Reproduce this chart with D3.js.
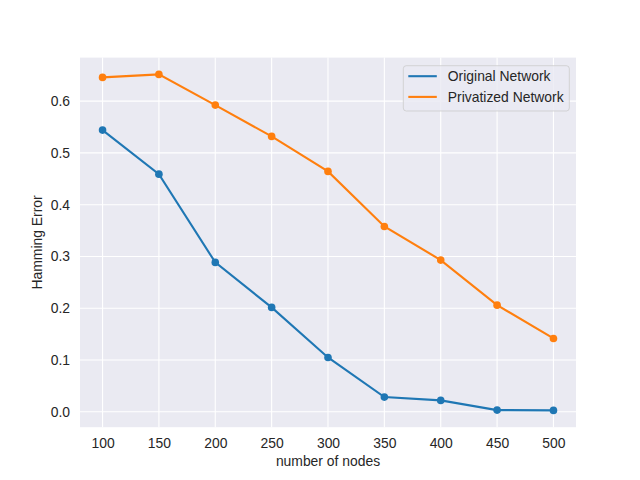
<!DOCTYPE html>
<html>
<head>
<meta charset="utf-8">
<script src="https://cdn.jsdelivr.net/npm/d3@7"></script>
<style>
  body { margin: 0; background: #fff; }
  text { font-family: "Liberation Sans", Arial, sans-serif; }
</style>
</head>
<body>
<div id="chart"></div>
<script>
// Data
var nodes = [100, 150, 200, 250, 300, 350, 400, 450, 500];
var originalError = [0.544, 0.459, 0.2885, 0.2016, 0.105, 0.0284, 0.022, 0.0033, 0.0027];
var privatizedError = [0.6458, 0.6516, 0.5923, 0.5319, 0.4643, 0.358, 0.293, 0.206, 0.1417];
var seriesNames = ["Original Network", "Privatized Network"];
var seriesColors = ["#1f77b4", "#ff7f0e"];
var xTicks = [100, 150, 200, 250, 300, 350, 400, 450, 500];
var yTicks = [0.0, 0.1, 0.2, 0.3, 0.4, 0.5, 0.6];

var W = 640, H = 480;
var margin = {top: 57.6, right: 64, bottom: 52.8, left: 80},
    width = W - margin.left - margin.right,
    height = H - margin.top - margin.bottom;
var fontSize = "13.9px";

var svg = d3.select("#chart")
  .append("svg")
    .attr("width", W)
    .attr("height", H)
  .append("g")
    .attr("transform", `translate(${margin.left},${margin.top})`);

// matplotlib-like 5% margins
var xPad = (d3.max(nodes) - d3.min(nodes)) * 0.05;
var allY = originalError.concat(privatizedError);
var yPad = (d3.max(allY) - d3.min(allY)) * 0.05;

var x = d3.scaleLinear()
  .domain([d3.min(nodes) - xPad, d3.max(nodes) + xPad])
  .range([0, width]);
var y = d3.scaleLinear()
  .domain([d3.min(allY) - yPad, d3.max(allY) + yPad])
  .range([height, 0]);

// background
svg.append("rect")
  .attr("width", width)
  .attr("height", height)
  .attr("fill", "#eaeaf2");

// grid
svg.append("g").selectAll("line")
  .data(xTicks).join("line")
    .attr("x1", d => x(d)).attr("x2", d => x(d))
    .attr("y1", 0).attr("y2", height)
    .attr("stroke", "#fff").attr("stroke-width", 1.1);
svg.append("g").selectAll("line")
  .data(yTicks).join("line")
    .attr("y1", d => y(d)).attr("y2", d => y(d))
    .attr("x1", 0).attr("x2", width)
    .attr("stroke", "#fff").attr("stroke-width", 1.1);

// axes (no ticks, no domain line)
var xAxis = svg.append("g")
  .attr("transform", `translate(0,${height})`)
  .call(d3.axisBottom(x).tickValues(xTicks).tickSize(0).tickPadding(11).tickFormat(d3.format("d")));
var yAxis = svg.append("g")
  .call(d3.axisLeft(y).tickValues(yTicks).tickSize(0).tickPadding(10).tickFormat(d3.format(".1f")));
[xAxis, yAxis].forEach(a => {
  a.select(".domain").remove();
  a.selectAll("text")
    .style("font-family", "'Liberation Sans', Arial, sans-serif")
    .style("font-size", fontSize)
    .attr("fill", "#262626");
});

// axis labels
svg.append("text")
  .attr("x", width / 2)
  .attr("y", height + 39)
  .attr("text-anchor", "middle")
  .style("font-size", fontSize)
  .attr("fill", "#262626")
  .text("number of nodes");
svg.append("text")
  .attr("transform", `translate(${-38.5},${height / 2}) rotate(-90)`)
  .attr("text-anchor", "middle")
  .style("font-size", fontSize)
  .attr("fill", "#262626")
  .text("Hamming Error");

// lines and points
var seriesData = [originalError, privatizedError].map((vals, i) => ({
  name: seriesNames[i],
  color: seriesColors[i],
  values: nodes.map((n, j) => ({x: n, y: vals[j]}))
}));

var line = d3.line().x(d => x(d.x)).y(d => y(d.y));

seriesData.forEach(s => {
  svg.append("path")
    .datum(s.values)
    .attr("fill", "none")
    .attr("stroke", s.color)
    .attr("stroke-width", 2.1)
    .attr("d", line);
  svg.append("g").selectAll("circle")
    .data(s.values).join("circle")
      .attr("cx", d => x(d.x))
      .attr("cy", d => y(d.y))
      .attr("r", 3.8)
      .attr("fill", s.color);
});

// legend
var lx = 403.3 - margin.left, ly = 65.7 - margin.top;
var legend = svg.append("g").attr("transform", `translate(${lx},${ly})`);
legend.append("rect")
  .attr("width", 166)
  .attr("height", 45.3)
  .attr("rx", 3)
  .attr("fill", "#eaeaf2")
  .attr("fill-opacity", 0.8)
  .attr("stroke", "#cccccc")
  .attr("stroke-opacity", 0.8)
  .attr("stroke-width", 1);
seriesData.forEach((s, i) => {
  var g = legend.append("g").attr("transform", `translate(0,${10.5 + i * 20.7})`);
  g.append("line")
    .attr("x1", 5).attr("x2", 33.5)
    .attr("stroke", s.color).attr("stroke-width", 2.1);
  g.append("text")
    .attr("x", 44.5)
    .attr("dy", "0.35em")
    .style("font-size", fontSize)
    .attr("fill", "#262626")
    .text(s.name);
});
</script>
</body>
</html>
